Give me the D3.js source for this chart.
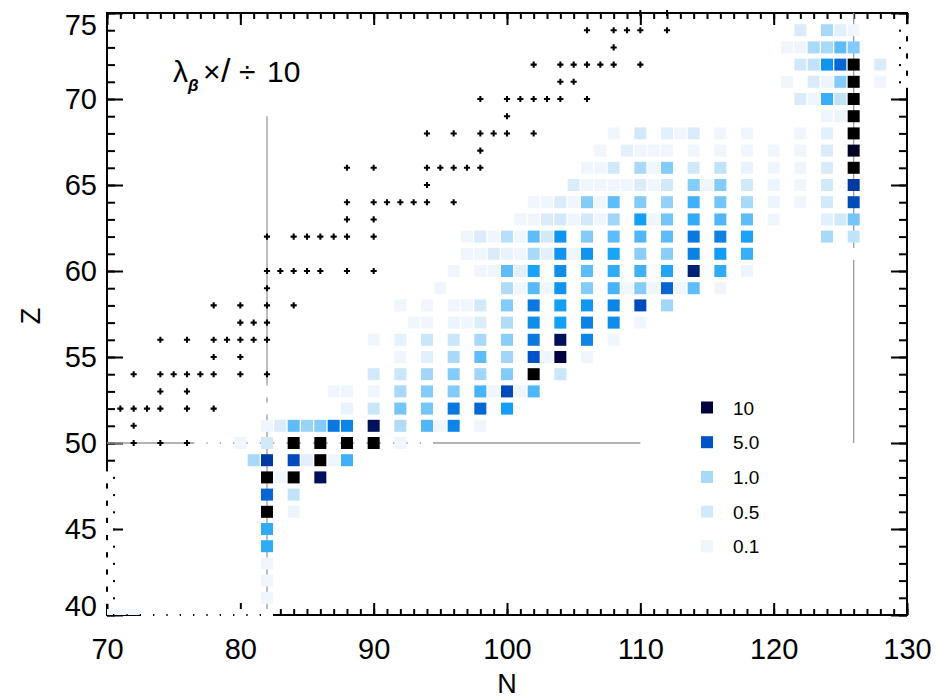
<!DOCTYPE html>
<meta charset="utf-8">
<style>
html, body { margin: 0; padding: 0; background: #fff; }
svg text { font-family: "Liberation Sans", Arial, sans-serif; fill: #000; }
</style>
<body>
<svg width="936" height="699"></svg>
</body>
<script src="https://d3js.org/d3.v7.min.js"></script>
<script>

// beta-decay rate sensitivity, [N, Z, value]
var cells = [
  // Z = 74 .. 69
  [122,74,0.4],[124,74,1.0],[125,74,0.3],[126,74,0.1],
  [121,73,0.1],[122,73,0.1],[123,73,1.0],[124,73,1.0],[125,73,2.0],[126,73,1.5],
  [122,72,0.5],[123,72,0.7],[124,72,3.3],[125,72,4.5],[126,72,20],[128,72,0.4],
  [121,71,0.1],[123,71,0.4],[124,71,0.15],[125,71,1.5],[126,71,20],[128,71,0.1],
  [122,70,0.4],[123,70,0.1],[124,70,2.5],[125,70,0.7],[126,70,20],
  [124,69,0.1],[125,69,0.15],[126,69,20],
  // Z = 68 .. 63
  [108,68,0.1],[110,68,0.5],[112,68,0.3],[113,68,0.1],[114,68,0.4],[116,68,0.1],[118,68,0.1],[122,68,0.1],[124,68,0.3],[126,68,20],
  [107,67,0.1],[109,67,0.3],[110,67,0.1],[111,67,0.1],[112,67,0.1],[114,67,0.1],[116,67,0.1],[118,67,0.1],[120,67,0.1],[122,67,0.1],[124,67,0.4],[126,67,11],
  [106,66,0.1],[107,66,0.1],[108,66,0.5],[110,66,1.0],[111,66,0.1],[112,66,1.5],[114,66,0.5],[116,66,0.7],[118,66,0.2],[120,66,0.1],[122,66,0.1],[124,66,0.4],[126,66,14],
  [105,65,0.4],[106,65,0.1],[107,65,0.1],[108,65,0.1],[109,65,0.1],[110,65,0.4],[111,65,0.1],[112,65,0.5],[114,65,1.5],[115,65,0.1],[116,65,1.5],[118,65,0.5],[120,65,0.15],[122,65,0.1],[124,65,0.5],[126,65,6.5],
  [102,64,0.1],[103,64,0.1],[104,64,0.4],[105,64,0.1],[106,64,1.5],[107,64,0.1],[108,64,2.0],[110,64,1.5],[112,64,1.3],[114,64,2.4],[116,64,1.7],[118,64,1.0],[120,64,0.15],[122,64,0.1],[124,64,0.5],[126,64,5.5],
  [101,63,0.1],[102,63,0.1],[103,63,0.4],[104,63,0.5],[105,63,0.1],[106,63,0.5],[107,63,0.1],[108,63,1.1],[110,63,3.0],[111,63,0.1],[112,63,1.7],[114,63,2.6],[116,63,2.2],[118,63,2.0],[120,63,0.1],[124,63,0.3],[125,63,0.5],[126,63,1.7],
  // Z = 62 .. 55
  [97,62,0.1],[98,62,0.4],[99,62,0.1],[100,62,0.8],[101,62,0.1],[102,62,2.0],[103,62,0.5],[104,62,3.3],[106,62,1.5],[108,62,2.0],[110,62,2.2],[112,62,2.0],[114,62,4.0],[116,62,3.8],[118,62,2.9],[124,62,1.0],[126,62,0.7],
  [97,61,0.1],[98,61,0.1],[99,61,0.4],[100,61,0.2],[101,61,0.1],[102,61,1.0],[103,61,0.3],[104,61,3.3],[105,61,0.1],[106,61,3.3],[108,61,2.9],[110,61,1.4],[112,61,1.4],[114,61,3.8],[116,61,3.1],[118,61,2.5],
  [96,60,0.1],[98,60,0.1],[99,60,0.1],[100,60,2.0],[101,60,0.3],[102,60,2.9],[104,60,3.5],[106,60,2.0],[108,60,2.6],[110,60,2.4],[112,60,2.8],[114,60,8],[116,60,2.6],[118,60,0.15],
  [95,59,0.1],[100,59,0.9],[101,59,0.1],[102,59,2.1],[103,59,0.1],[104,59,3.3],[106,59,1.5],[108,59,2.3],[109,59,0.1],[110,59,1.5],[111,59,0.1],[112,59,4.5],[113,59,0.1],[114,59,2.0],[116,59,0.1],
  [92,58,0.1],[94,58,0.1],[96,58,0.1],[97,58,0.1],[98,58,0.5],[100,58,1.5],[102,58,4.0],[104,58,3.0],[106,58,3.2],[108,58,3.7],[110,58,5.5],[112,58,1.1],
  [93,57,0.1],[94,57,0.1],[96,57,0.15],[97,57,0.1],[98,57,0.35],[100,57,0.9],[102,57,3.5],[104,57,3.0],[106,57,3.8],[108,57,3.5],[110,57,0.1],
  [90,56,0.1],[92,56,0.25],[94,56,0.6],[96,56,0.6],[98,56,1.0],[100,56,1.4],[102,56,4.0],[104,56,9],[106,56,3.7],[108,56,0.1],
  [92,55,0.1],[94,55,0.3],[96,55,1.0],[98,55,2.0],[100,55,1.1],[102,55,5.0],[103,55,0.1],[104,55,10],[106,55,0.1],
  // Z = 54 .. 40
  [90,54,0.5],[92,54,0.6],[94,54,1.1],[96,54,1.5],[98,54,1.1],[100,54,1.5],[102,54,20],[104,54,0.6],
  [87,53,0.1],[88,53,0.1],[90,53,0.1],[92,53,1.0],[94,53,1.5],[96,53,1.5],[98,53,2.3],[99,53,0.1],[100,53,5.5],[101,53,0.1],[102,53,2.2],
  [88,52,0.2],[90,52,0.6],[92,52,1.7],[94,52,1.7],[96,52,4.0],[98,52,4.5],[100,52,3.0],
  [82,51,0.1],[83,51,0.4],[84,51,2.0],[85,51,1.2],[86,51,1.5],[87,51,4.0],[88,51,3.7],[90,51,9],[92,51,0.9],[94,51,2.2],[95,51,0.1],[96,51,3.7],[98,51,0.1],
  [80,50,0.1],[82,50,0.5],[84,50,20],[86,50,20],[88,50,20],[90,50,20],[92,50,0.1],
  [81,49,1.0],[82,49,6.5],[84,49,5.5],[85,49,0.3],[86,49,20],[87,49,0.1],[88,49,2.4],
  [82,48,20],[83,48,0.1],[84,48,20],[86,48,9],
  [82,47,4.5],[84,47,0.7],
  [82,46,20],[84,46,0.15],
  [82,45,2.6],[82,44,2.6],[82,43,0.1],[82,42,0.1],[82,41,0.1],
  [70,40,0.1],[71,40,0.1],[72,40,0.1]
];

// nuclei in the calculation with no sensitivity, drawn blank
var blanks = [
  [77,50],[78,50],[79,50],[81,50],[83,50],[85,50],[87,50],[89,50],[91,50],[93,50],[94,50],
  [82,52],[82,53],[82,40],[126,61],
  [70,41],[70,42],[70,43],[70,44],[70,45],[70,46],[70,47],[70,48],
  [73,40],[74,40],[75,40],[76,40],[77,40],[78,40],[79,40],[80,40],[81,40],
  [130,71],[130,72],[130,73],[130,74]
];

// stable and long-lived nuclei [N, Z]
var stable = [
  [110,75],[112,75],
  [106,74],[108,74],[109,74],[110,74],[112,74],
  [108,73],
  [102,72],[104,72],[105,72],[106,72],[107,72],[108,72],[110,72],
  [104,71],[105,71],
  [98,70],[100,70],[101,70],[102,70],[103,70],[104,70],[106,70],
  [100,69],
  [94,68],[96,68],[98,68],[99,68],[100,68],[102,68],
  [98,67],
  [88,66],[90,66],[94,66],[95,66],[96,66],[97,66],[98,66],
  [94,65],
  [88,64],[90,64],[91,64],[92,64],[93,64],[94,64],[96,64],
  [88,63],[90,63],
  [82,62],[84,62],[85,62],[86,62],[87,62],[88,62],[90,62],
  [82,60],[83,60],[84,60],[85,60],[86,60],[88,60],[90,60],
  [82,59],
  [78,58],[80,58],[82,58],[84,58],
  [80,57],[81,57],[82,57],
  [74,56],[76,56],[78,56],[79,56],[80,56],[81,56],[82,56],
  [78,55],[80,55],
  [72,54],[74,54],[75,54],[76,54],[77,54],[78,54],[80,54],[82,54],
  [74,53],[76,53],
  [71,52],[72,52],[73,52],[74,52],[76,52],[78,52],
  [72,51],
  [72,50],[74,50],[76,50]
];

// magic numbers: [N, Zfrom, Zto] and [Z, Nfrom, Nto]
var magicN = [[82,40,69],[126,50,75]];
var magicZ = [[50,70,110]];

var legendVals = [10, 5.0, 1.0, 0.5, 0.1];
var legendText = ["10", "5.0", "1.0", "0.5", "0.1"];

var xTicks = [70, 80, 90, 100, 110, 120, 130];
var yTicks = [40, 45, 50, 55, 60, 65, 70, 75];

var svg = d3.select("svg");

var x = d3.scaleLinear().domain([70, 130]).range([107, 907]);
var y = d3.scaleLinear().domain([40, 75]).range([615, 13]);

var colour = d3.scaleLinear()
    .domain([0.1, 0.5, 1, 2, 3, 5, 10, 12])
    .range(["#f0f6fe", "#d2e9f9", "#a8d9f8", "#5ebdf8", "#12a0f7", "#0052c8", "#000040", "#000000"])
    .clamp(true);

var cw = 12, ch = 12;

// axes (ticks inward)
function style_axis(g) {
    g.select(".domain").remove();
    g.selectAll(".tick line").attr("stroke", "#000").attr("stroke-width", 2);
    g.selectAll("text").attr("font-size", 29).attr("fill", "#000");
}

svg.append("g").attr("transform", "translate(0,615)")
    .call(d3.axisBottom(x).tickValues(d3.range(70, 131)).tickSize(-6).tickFormat(""))
    .call(style_axis);
svg.append("g").attr("transform", "translate(0,615)")
    .call(d3.axisBottom(x).tickValues(xTicks).tickSize(-12).tickPadding(23).tickFormat(d3.format("d")))
    .call(style_axis);
svg.append("g").attr("transform", "translate(0,13)")
    .call(d3.axisTop(x).tickValues(d3.range(70, 131)).tickSize(-6).tickFormat(""))
    .call(style_axis);
svg.append("g").attr("transform", "translate(0,13)")
    .call(d3.axisTop(x).tickValues(xTicks).tickSize(-12).tickFormat(""))
    .call(style_axis);

svg.append("g").attr("transform", "translate(107,0)")
    .call(d3.axisLeft(y).tickValues(d3.range(40, 76)).tickSize(-8).tickFormat(""))
    .call(style_axis);
var yAxis = svg.append("g").attr("transform", "translate(107,0)")
    .call(d3.axisLeft(y).tickValues(yTicks).tickSize(-16).tickPadding(10).tickFormat(d3.format("d")))
    .call(style_axis);
// keep end labels inside the picture
yAxis.selectAll(".tick text").attr("y", function(d) {
    if (d == 75) return 12;
    if (d == 40) return -9;
    return 0;
});
svg.append("g").attr("transform", "translate(907,0)")
    .call(d3.axisRight(y).tickValues(d3.range(40, 76)).tickSize(-8).tickFormat(""))
    .call(style_axis);
svg.append("g").attr("transform", "translate(907,0)")
    .call(d3.axisRight(y).tickValues(yTicks).tickSize(-16).tickFormat(""))
    .call(style_axis);

svg.append("rect")
    .attr("x", x(70)).attr("y", y(75))
    .attr("width", x(130) - x(70)).attr("height", y(40) - y(75))
    .attr("fill", "none").attr("stroke", "#000").attr("stroke-width", 2);

// magic number lines
svg.append("g").selectAll("line").data(magicN).enter().append("line")
    .attr("x1", function(d) { return x(d[0]); })
    .attr("x2", function(d) { return x(d[0]); })
    .attr("y1", function(d) { return y(d[1]); })
    .attr("y2", function(d) { return y(d[2]); })
    .attr("stroke", "#9a9a9a").attr("stroke-width", 1.3);
svg.append("g").selectAll("line").data(magicZ).enter().append("line")
    .attr("y1", function(d) { return y(d[0]); })
    .attr("y2", function(d) { return y(d[0]); })
    .attr("x1", function(d) { return x(d[1]); })
    .attr("x2", function(d) { return x(d[2]); })
    .attr("stroke", "#9a9a9a").attr("stroke-width", 1.3);

// blank nuclei
svg.append("g").selectAll("rect").data(blanks).enter().append("rect")
    .attr("x", function(d) { return x(d[0]) - cw / 2; })
    .attr("y", function(d) { return y(d[1]) - ch / 2; })
    .attr("width", cw).attr("height", ch)
    .attr("fill", "#fff");

// coloured nuclei
svg.append("clipPath").attr("id", "plot_clip").append("rect")
    .attr("x", x(70)).attr("y", y(75))
    .attr("width", x(130) - x(70)).attr("height", y(40) - y(75));

svg.append("g").attr("clip-path", "url(#plot_clip)")
    .selectAll("rect").data(cells).enter().append("rect")
    .attr("x", function(d) { return x(d[0]) - cw / 2; })
    .attr("y", function(d) { return y(d[1]) - ch / 2; })
    .attr("width", cw).attr("height", ch)
    .attr("fill", function(d) { return colour(d[2]); });

// stable nuclei
var cross = d3.symbol().type(d3.symbolCross).size(21);
svg.append("g").selectAll("path").data(stable).enter().append("path")
    .attr("d", cross)
    .attr("transform", function(d) { return "translate(" + x(d[0]) + "," + y(d[1]) + ")"; })
    .attr("fill", "#000");

// legend
var leg = svg.append("g");
legendVals.forEach(function(v, i) {
    var ly = 407.5 + i * 34.7;
    leg.append("rect").attr("x", 701).attr("y", ly - 6).attr("width", 12).attr("height", 12)
        .attr("fill", colour(v));
    leg.append("text").attr("x", 733).attr("y", ly + 7).attr("font-size", 19).text(legendText[i]);
});

// annotation
var ann = svg.append("text").attr("y", 82).attr("font-size", 30);
ann.append("tspan").attr("x", 173).text("\u03bb");
ann.append("tspan").attr("dy", 9).attr("font-size", 17).attr("font-weight", "bold")
    .attr("font-style", "italic").text("\u03b2");
ann.append("tspan").attr("x", 203).attr("dy", -9).text("\u00d7");
ann.append("tspan").attr("x", 221).attr("font-size", 34).text("/");
ann.append("tspan").attr("x", 239).text("\u00f7");
ann.append("tspan").attr("x", 267).text("10");

// axis titles
svg.append("text").attr("x", 507).attr("y", 693).attr("text-anchor", "middle")
    .attr("font-size", 27).text("N");
svg.append("text").attr("transform", "translate(40,316) rotate(-90)")
    .attr("text-anchor", "middle").attr("font-size", 27).text("Z");

</script>
